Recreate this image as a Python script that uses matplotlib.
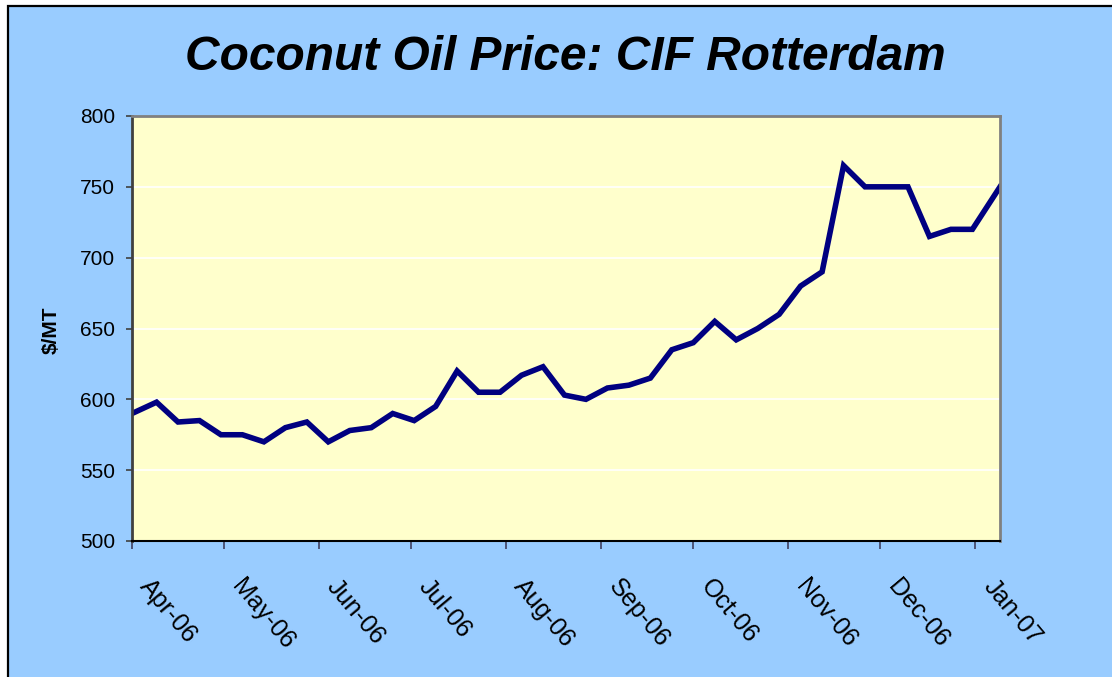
import pandas as pd
import matplotlib
matplotlib.use('Agg')
import matplotlib.pyplot as plt
import matplotlib.dates as mdates
from matplotlib.patches import Rectangle
from matplotlib.transforms import ScaledTranslation

# weekly price quotes ($/MT), first and last quote dates are off the weekly grid
first_date = '2006-04-01'
weekly_start = '2006-04-09'
n_weekly = 39
last_date = '2007-01-09'
prices = [590, 598, 584, 585, 575, 575, 570, 580, 584, 570,
          578, 580, 590, 585, 595, 620, 605, 605, 617, 623,
          603, 600, 608, 610, 615, 635, 640, 655, 642, 650,
          660, 680, 690, 765, 750, 750, 750, 715, 720, 720, 750]
yticks = [500, 550, 600, 650, 700, 750, 800]
title = 'Coconut Oil Price: CIF Rotterdam'
ylabel = '$/MT'

weekly = list(pd.date_range(weekly_start, periods=n_weekly, freq='7D').strftime('%Y-%m-%d'))
dates = pd.to_datetime([first_date] + weekly + [last_date])

plt.rcParams['font.family'] = ['Liberation Sans', 'DejaVu Sans']

W, H = 1112, 677
fig = plt.figure(figsize=(W / 100, H / 100), dpi=100, facecolor='white')
# outer chart area (border only visible on left / top)
fig.patches.append(Rectangle((8 / W, -0.05), 1.0, 1.05 - 6 / H, transform=fig.transFigure,
                             facecolor='#99CCFF', edgecolor='black', linewidth=1.6, zorder=-10))

ax = fig.add_axes([132 / W, 1 - 541 / H, 868 / W, 425 / H])
ax.set_facecolor('#FFFFCC')
ax.plot(dates, prices, color='#000080', lw=4, solid_joinstyle='miter')

ax.set_ylim(500, 800)
ax.set_yticks(yticks)
ax.set_xlim(dates[0], dates[-1])
ax.yaxis.grid(True, color='white', lw=1.2)
ax.set_axisbelow(True)

ax.xaxis.set_major_locator(mdates.MonthLocator())
ax.xaxis.set_major_formatter(mdates.DateFormatter('%b-%y'))

for s in ['top', 'right']:
  ax.spines[s].set_color('#808080')
  ax.spines[s].set_linewidth(2)
ax.spines['left'].set_color('#404040')
ax.spines['left'].set_linewidth(2)
ax.spines['bottom'].set_color('black')
ax.spines['bottom'].set_linewidth(1.5)

ax.tick_params(axis='y', direction='out', length=4, width=1.2, color='#404040',
               labelsize=15, pad=8)
ax.tick_params(axis='x', direction='out', length=6, width=1.2, color='#404060',
               labelsize=18, pad=24)
for lab in ax.get_xticklabels():
  lab.set_rotation(-50)
  lab.set_ha('left')
  lab.set_va('center')
  lab.set_rotation_mode('anchor')
  lab.set_transform(lab.get_transform() + ScaledTranslation(0.12, 0, fig.dpi_scale_trans))

fig.text(51 / W, 1 - 330 / H, ylabel, rotation=90, ha='center', va='center',
         fontsize=15, fontweight='bold')
fig.text(565 / W, 1 - 58 / H, title, ha='center', va='center', fontsize=34.5,
         fontweight='bold', fontstyle='italic')

fig.savefig('out.png', dpi=100, facecolor=fig.get_facecolor())
